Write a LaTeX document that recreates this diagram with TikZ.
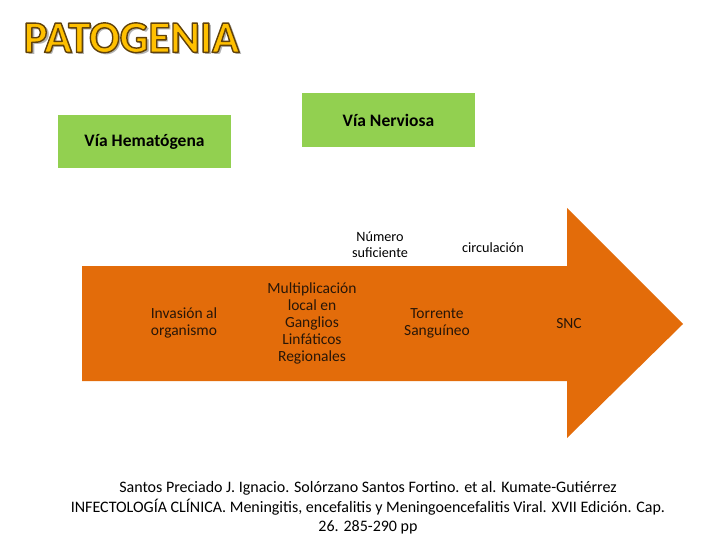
\documentclass[tikz,border=0pt]{standalone}
\usepackage{fontspec}
\setmainfont{Carlito}
\definecolor{vgreen}{RGB}{146,208,80}
\definecolor{vorange}{RGB}{227,108,10}
\definecolor{vtitle}{RGB}{255,192,0}
\definecolor{vdark}{RGB}{40,22,8}
\newcommand\outlinetext[1]{\special{pdf:literal direct 2 Tr 1.4 w 1 j 0.38 0.26 0.04 RG}#1\special{pdf:literal direct 0 Tr}}
\newcommand\shadowedtitle[1]{\rlap{\hspace{2.5pt}\raisebox{-2.5pt}{\textcolor{black!30}{#1}}}\outlinetext{#1}}
\tikzset{
  greenbox/.style={font=\fontsize{17.5}{20}\selectfont\bfseries, text=black},
  arrowtxt/.style={font=\fontsize{15.5}{17}\selectfont, text=vdark, align=center},
  toptxt/.style={font=\fontsize{14.2}{16}\selectfont, text=black, align=center},
  citetxt/.style={font=\fontsize{16}{19.5}\selectfont, text=black, align=center},
  titletxt/.style={font=\fontsize{45}{48}\selectfont\bfseries, anchor=west}
}
\begin{document}
\begin{tikzpicture}[x=1pt,y=-1pt]
\useasboundingbox (0,0) rectangle (720,540);
% title
\node[titletxt, text=vtitle] (title) at (20,39) {\shadowedtitle{PATOGENIA}};
% green boxes
\fill[vgreen] (58,115) rectangle (231,168);
\node[greenbox] (hema) at (144.5,141.5) {Vía Hematógena};
\fill[vgreen] (302,93) rectangle (475,147);
\node[greenbox] (nerv) at (388.5,120) {Vía Nerviosa};
% big arrow
\fill[vorange] (82,266) -- (567,266) -- (567,208) -- (683,324) -- (567,438) -- (567,381) -- (82,381) -- cycle;
\node[arrowtxt] (inv) at (184,323) {Invasión al\\organismo};
\node[arrowtxt] (mult) at (312,323) {Multiplicación\\local en\\Ganglios\\Linfáticos\\Regionales};
\node[arrowtxt] (torr) at (437,323) {Torrente\\Sanguíneo};
\node[arrowtxt] (snc) at (569,324) {SNC};
\node[toptxt] (num) at (380,245) {Número\\suficiente};
\node[toptxt] (circ) at (493,248) {circulación};
% citation
\node[citetxt] (cite) at (368,508) {Santos Preciado J. Ignacio. Solórzano Santos Fortino. et al. Kumate-Gutiérrez\\INFECTOLOGÍA CLÍNICA. Meningitis, encefalitis y Meningoencefalitis Viral. XVII Edición. Cap.\\26. 285-290 pp};
\end{tikzpicture}
\end{document}
